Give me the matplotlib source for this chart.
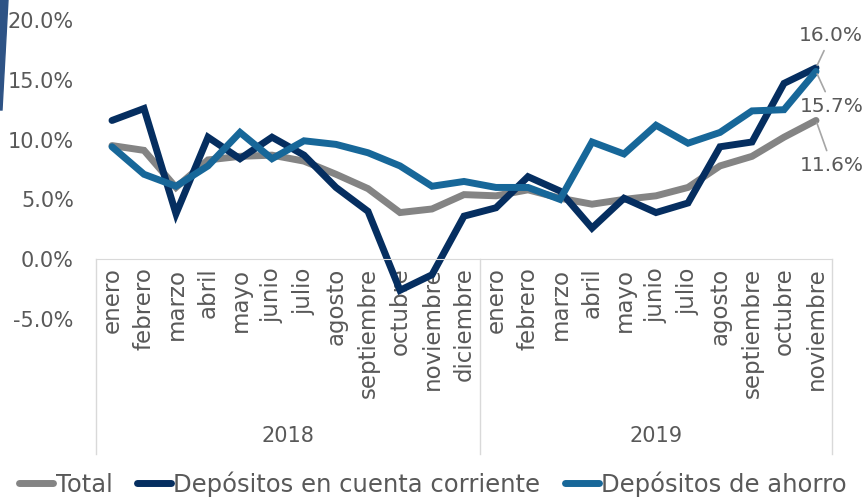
import matplotlib.pyplot as plt
from matplotlib.patches import Polygon

# ===[ Data ]==================================================================
meses_2018 = ["enero", "febrero", "marzo", "abril", "mayo", "junio", "julio",
              "agosto", "septiembre", "octubre", "noviembre", "diciembre"]
meses_2019 = ["enero", "febrero", "marzo", "abril", "mayo", "junio", "julio",
              "agosto", "septiembre", "octubre", "noviembre"]
years = ["2018", "2019"]

total = [9.5, 9.1, 6.0, 8.3, 8.6, 8.7, 8.2, 7.1, 5.9, 3.9, 4.2, 5.4,
         5.3, 5.8, 5.1, 4.6, 5.0, 5.3, 6.0, 7.8, 8.6, 10.2, 11.6]
corriente = [11.6, 12.6, 3.8, 10.2, 8.4, 10.2, 8.7, 6.0, 4.0, -2.6, -1.3, 3.6,
             4.3, 6.9, 5.7, 2.6, 5.1, 3.9, 4.7, 9.4, 9.8, 14.7, 16.0]
ahorro = [9.4, 7.1, 6.1, 7.8, 10.6, 8.4, 9.9, 9.6, 8.9, 7.8, 6.1, 6.5,
          6.0, 6.0, 5.0, 9.8, 8.8, 11.2, 9.7, 10.6, 12.4, 12.5, 15.7]

series = [("Total", total, "#848484"),
          ("Depósitos en cuenta corriente", corriente, "#052e60"),
          ("Depósitos de ahorro", ahorro, "#176799")]

# ===[ Figure ]================================================================
plt.rcParams['font.family'] = ['DejaVu Sans']
txt = "#595959"
W, H = 866, 497
fig = plt.figure(figsize=(W / 100, H / 100), dpi=100)
ax = fig.add_axes([96 / W, (H - 319) / H, 736 / W, 299 / H])

labels = meses_2018 + meses_2019
x = list(range(len(labels)))
for name, vals, col in series:
    ax.plot(x, vals, color=col, lw=5, label=name, solid_capstyle="round",
            solid_joinstyle="miter")

ax.set_xlim(-0.5, len(labels) - 0.5)
ax.set_ylim(-5, 20)
ax.set_yticks(range(-5, 21, 5))
ax.set_yticklabels([f"{v:.1f}%" for v in range(-5, 21, 5)])
ax.tick_params(axis="y", length=0, pad=16, labelsize=15, labelcolor=txt)

# category axis crosses at 0
for s in ["top", "right", "left"]:
    ax.spines[s].set_visible(False)
ax.spines["bottom"].set_position(("data", 0))
ax.spines["bottom"].set_color("#d9d9d9")
ax.set_xticks(x)
ax.set_xticklabels(labels, rotation=90, va="top", ha="center")
ax.tick_params(axis="x", length=0, pad=6, labelsize=16.5, labelcolor=txt)

# year separators and labels
n18 = len(meses_2018)
ybot = -16.25
for xv in [-0.5, n18 - 0.5, len(labels) - 0.5]:
    ax.plot([xv, xv], [0, ybot], color="#d9d9d9", lw=1, clip_on=False)
ax.text((n18 - 1) / 2, -14.75, years[0], ha="center", va="center",
        fontsize=15, color=txt)
ax.text(n18 + (len(meses_2019) - 1) / 2, -14.75, years[1], ha="center",
        va="center", fontsize=15, color=txt)

# data labels on last point
last = len(labels) - 1
lead = dict(arrowstyle="-", color="#a6a6a6", lw=1.2)
ax.annotate(f"{corriente[-1]:.1f}%", (last, corriente[-1]), xytext=(15, 32),
            textcoords="offset pixels", ha="center", va="center",
            fontsize=14.5, color=txt, arrowprops=lead, annotation_clip=False)
ax.annotate(f"{ahorro[-1]:.1f}%", (last, ahorro[-1]), xytext=(16, -35),
            textcoords="offset pixels", ha="center", va="center",
            fontsize=14.5, color=txt, arrowprops=lead, annotation_clip=False)
ax.annotate(f"{total[-1]:.1f}%", (last, total[-1]), xytext=(16, -45),
            textcoords="offset pixels", ha="center", va="center",
            fontsize=14.5, color=txt, arrowprops=lead, annotation_clip=False)

# legend
leg = fig.legend(loc="center", bbox_to_anchor=(0.5, 1 - 484 / H), ncol=3,
                 frameon=False, fontsize=17.5, handlelength=1.4,
                 handletextpad=0.1, columnspacing=1.0, borderpad=0)
for t in leg.get_texts():
    t.set_color(txt)

# decorative corner band
fig.patches.append(Polygon([(0, 1), (8 / W, 1), (2 / W, 1 - 110 / H),
                            (0, 1 - 110 / H)], closed=True,
                           transform=fig.transFigure, color="#2e5385"))

fig.savefig("out.png", dpi=100)
